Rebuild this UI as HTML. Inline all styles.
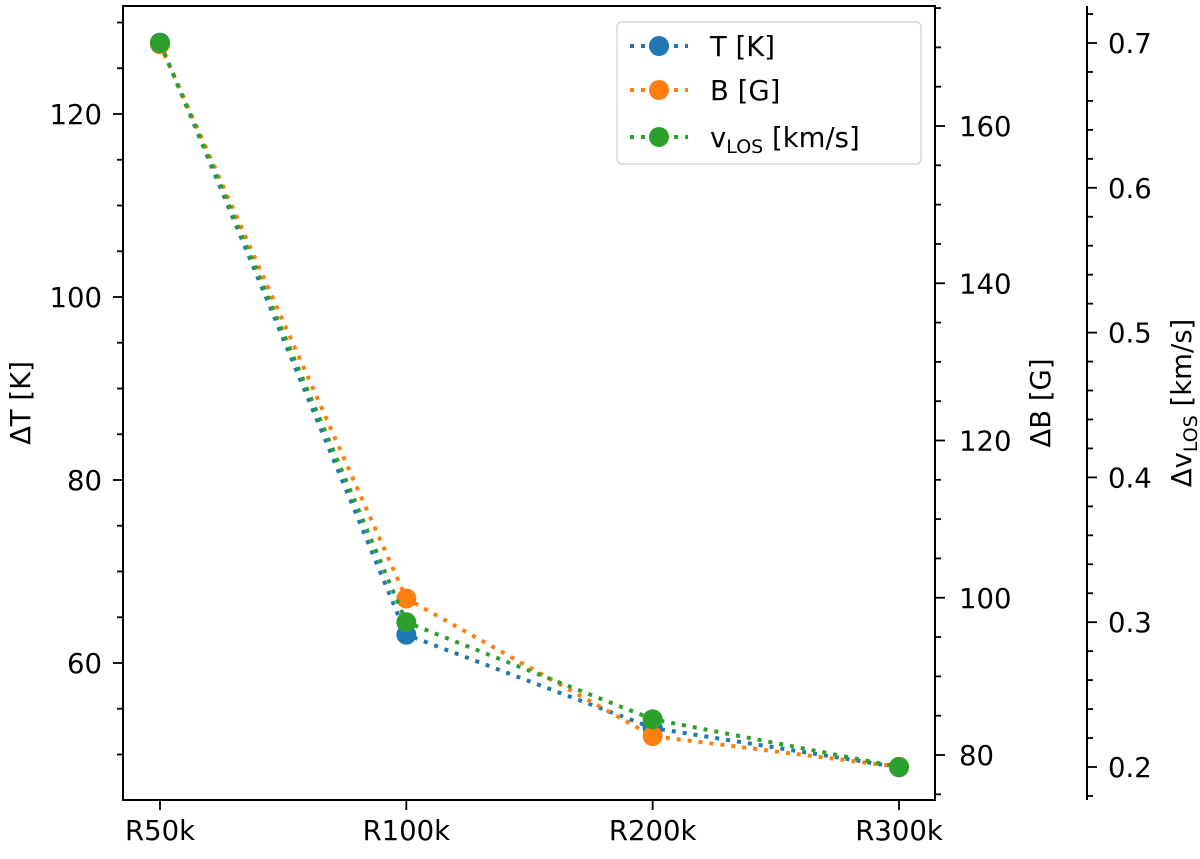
<!DOCTYPE html>
<html><head><meta charset="utf-8"><style>
body{margin:0;background:#fff;}
svg{font-family:"DejaVu Sans","Liberation Sans",sans-serif;}
</style></head><body>
<svg id="chart" width="1200" height="854" xmlns="http://www.w3.org/2000/svg"></svg>
<script>
const categories=["R50k","R100k","R200k","R300k"];
const tValues=[127.8,63.1,52.9,48.6];
const bValues=[170.4,99.9,82.4,78.5];
const vValues=[0.70,0.30,0.233,0.20];
const tTicks=[60,80,100,120];
const bTicks=[80,100,120,140,160];
const vTicks=[0.2,0.3,0.4,0.5,0.6,0.7];
const seriesLabels=["T [K]","B [G]","v_LOS [km/s]"];

const NS="http://www.w3.org/2000/svg";
const svg=document.getElementById('chart');
const L=123,R=935,T=6,B=800,A3=1087;
const FS=27.5;
const xs=i=>160+i*(899-160)/(categories.length-1);
const yT=v=>114+(120-v)*(297-114)/20;
const yB=v=>126+(160-v)*(755-126)/80;
const yV=v=>43+(0.7-v)*(767-43)/0.5;
function el(tag,attrs,parent){const e=document.createElementNS(NS,tag);for(const k in attrs)e.setAttribute(k,attrs[k]);(parent||svg).appendChild(e);return e;}
function txt(s,x,y,anchor,name,parent){const t=el('text',{x:x,y:y,'text-anchor':anchor,'font-size':FS,fill:'#000'},parent);t.textContent=s;

return t;}

const colors=["#1f77b4","#ff7f0e","#2ca02c"];
const data=[tValues.map(yT),bValues.map(yB),vValues.map(yV)];
data.forEach((ys,si)=>{
 const g=el('g',{});
 
 
 const pts=ys.map((y,i)=>xs(i)+','+y).join(' ');
 el('polyline',{points:pts,fill:'none',stroke:colors[si],'stroke-width':4,'stroke-dasharray':'4 7'},g);
 ys.forEach((y,i)=>{const c=el('circle',{cx:xs(i),cy:y,r:10,fill:colors[si]},g);
  
  });
});

const frame=el('rect',{x:L,y:T,width:R-L,height:B-T,fill:'none',stroke:'#000','stroke-width':2});


const sp3=el('line',{x1:A3,y1:T,x2:A3,y2:B,stroke:'#000','stroke-width':2});



function tick(x,y,dx){el('line',{x1:x,y1:y,x2:x+dx,y2:y,stroke:'#000','stroke-width':1.8});}
for(let v=45;v<=130;v+=5){const y=yT(v);if(y<T||y>B)continue;tick(L,y,v%20==0?-10:-6);}
tTicks.forEach(v=>txt(String(v),102,yT(v)+10,'end','t-tick-label'));
for(let v=75;v<=175;v+=5){const y=yB(v);if(y<T||y>B)continue;tick(R,y,v%20==0?10:6);}
bTicks.forEach(v=>txt(String(v),959,yB(v)+10,'start','b-tick-label'));
for(let k=9;k<=36;k++){const v=k*0.02;const y=yV(v);if(y<T||y>B)continue;tick(A3,y,k%5==0?10:6);}
vTicks.forEach(v=>txt(v.toFixed(1),1108,yV(v)+10,'start','v-tick-label'));
categories.forEach((c,i)=>{el('line',{x1:xs(i),y1:B,x2:xs(i),y2:B+10,stroke:'#000','stroke-width':1.8});txt(c,xs(i),B+40,'middle','x-tick-label');});

let t1=txt('ΔT [K]',0,0,'middle','t-axis-title');t1.setAttribute('transform','translate(30,403) rotate(-90)');
let t2=txt('ΔB [G]',0,0,'middle','b-axis-title');t2.setAttribute('transform','translate(1050,403) rotate(-90)');
let t3=el('text',{transform:'translate(1191,403) rotate(-90)','text-anchor':'middle','font-size':FS});


t3.innerHTML='Δv<tspan font-size="19" dy="6">LOS</tspan><tspan dy="-6"> [km/s]</tspan>';

const lg=el('g',{});


el('rect',{x:617,y:22,width:304,height:142,rx:5,fill:'#fff','fill-opacity':0.85,stroke:'#d8d8d8','stroke-width':1.5},lg);
[46,90,137].forEach((y,i)=>{
 const e=el('g',{},lg);
 
 
 el('line',{x1:630,y1:y,x2:688,y2:y,stroke:colors[i],'stroke-width':4,'stroke-dasharray':'4 7'},e);
 el('circle',{cx:659,cy:y,r:10,fill:colors[i]},e);
 const t=el('text',{x:710,y:y+10,'font-size':FS},e);
 if(i<2)t.textContent=seriesLabels[i];else t.innerHTML='v<tspan font-size="19" dy="6">LOS</tspan><tspan dy="-6"> [km/s]</tspan>';
});
</script>
</body></html>
